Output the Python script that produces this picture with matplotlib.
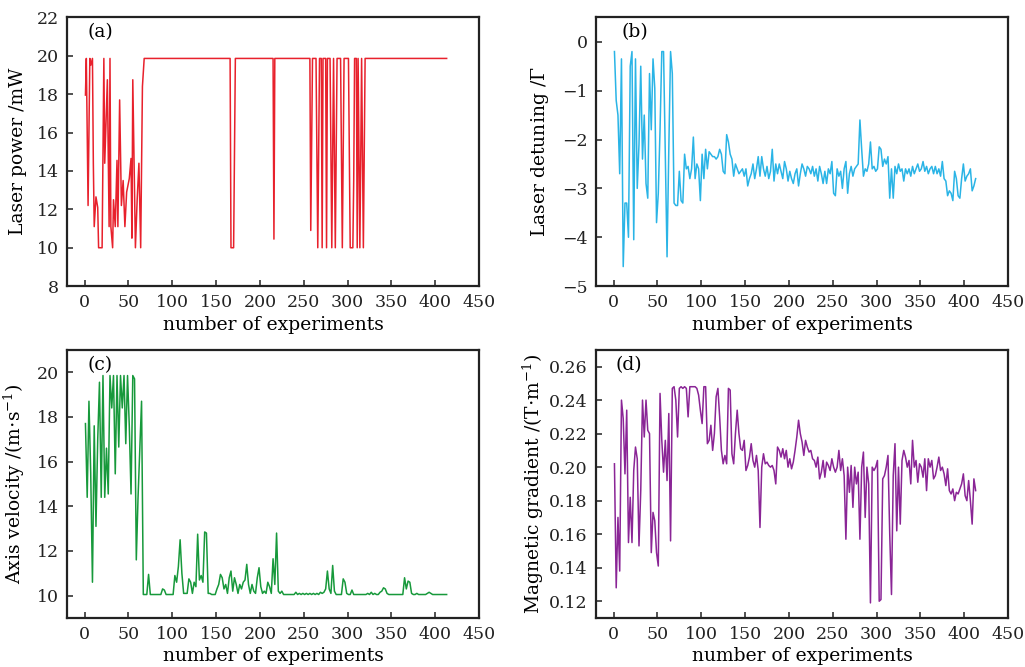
import numpy as np
import matplotlib
matplotlib.use("Agg")
import matplotlib.pyplot as plt

# panel (a): laser power, vertices of the trace (experiment number, mW)
power_exp = [1, 2, 4, 6, 7, 9, 10, 11, 13, 15, 16, 20, 22, 23, 26, 28, 29, 30, 32, 33,
             35, 37, 38, 40, 42, 44, 46, 48, 51, 53, 54, 55, 58, 60, 62, 64, 66, 68,
             166, 167, 170, 172, 215, 216, 217, 257, 258, 260, 264, 266, 268, 270, 271,
             272, 275, 276, 277, 280, 282, 284, 286, 288, 292, 294, 296, 301, 303, 306,
             307, 308, 310, 311, 312, 314, 315, 316, 318, 320, 322, 413]
power = [17.95, 19.86, 12.2, 19.86, 19.5, 19.86, 14.4, 11.1, 12.65, 12.1, 10.0, 10.0, 19.86,
         14.4, 18.75, 11.1, 19.86, 11.1, 10.0, 12.5,
         11.1, 14.55, 11.1, 17.7, 12.2, 13.5, 11.1, 12.9, 13.6, 14.65, 10.5, 18.75, 10.0,
         12.5, 14.4, 10.0, 18.4, 19.86,
         19.86, 10.0, 10.0, 19.86, 19.86, 10.45, 19.86, 19.86, 10.9, 19.86, 19.86, 10.0,
         19.86, 19.86, 10.0,
         19.86, 19.86, 10.0, 19.86, 19.86, 10.0, 19.86, 10.0, 19.86, 19.86, 10.0, 19.86,
         19.86, 10.0, 10.0,
         13.5, 19.86, 19.86, 10.0, 19.86, 10.0, 14.6, 19.86, 10.0, 19.86, 19.86, 19.86]

# panels (b)-(d): one value every second experiment (1, 3, 5, ..., 413)
detuning = [-0.2, -1.2, -1.5, -2.7, -0.35, -4.6, -3.3, -3.3, -4.0, -0.5,
            -0.2, -4.05, -0.35, -3.0, -2.1, -0.5, -2.4, -1.5, -2.9, -3.2,
            -0.65, -1.8, -0.35, -0.95, -3.7, -3.1, -1.8, -0.2, -0.2, -2.3,
            -4.4, -2.2, -0.2, -0.65, -3.3, -3.35, -3.35, -2.65, -3.25, -3.3,
            -2.3, -2.6, -2.55, -2.8, -2.6, -1.95, -2.8, -2.5, -2.6, -3.25,
            -2.3, -2.8, -2.2, -2.6, -2.25, -2.3, -2.35, -2.35, -2.4, -2.35,
            -2.2, -2.3, -2.65, -2.7, -1.9, -2.05, -2.3, -2.4, -2.75, -2.5,
            -2.6, -2.7, -2.65, -2.6, -2.75, -2.6, -2.95, -2.8, -2.7, -2.5,
            -2.8, -2.6, -2.35, -2.75, -2.35, -2.6, -2.75, -2.55, -2.8, -2.65,
            -2.2, -2.85, -2.5, -2.7, -2.5, -2.65, -2.8, -2.45, -2.6, -2.85,
            -2.65, -2.8, -2.9, -2.7, -2.6, -2.95, -2.7, -2.5, -2.6, -2.75,
            -2.55, -2.6, -2.7, -2.55, -2.75, -2.6, -2.85, -2.55, -2.7, -2.9,
            -2.65, -2.9, -2.6, -2.7, -2.45, -3.1, -3.15, -2.6, -2.75, -2.65,
            -3.0, -2.6, -2.45, -3.1, -2.7, -2.55, -2.75, -2.6, -2.55, -2.5,
            -1.6, -2.2, -2.75, -2.6, -2.65, -2.5, -2.05, -2.6, -2.55, -2.65,
            -2.6, -2.15, -2.2, -2.55, -2.4, -2.5, -2.35, -3.2, -2.6, -3.2,
            -2.55, -2.7, -2.5, -2.65, -2.6, -2.85, -2.6, -2.7, -2.6, -2.75,
            -2.55, -2.7, -2.6, -2.5, -2.65, -2.6, -2.45, -2.65, -2.55, -2.7,
            -2.6, -2.55, -2.7, -2.55, -2.7, -2.6, -2.75, -2.45, -2.8, -2.85,
            -3.15, -3.05, -3.1, -3.25, -2.65, -2.8, -3.15, -3.2, -2.8, -2.5,
            -2.85, -2.75, -2.7, -2.6, -3.05, -2.95, -2.8]

velocity = [17.7, 14.4, 18.7, 15.5, 10.6, 17.6, 13.1, 17.0, 19.55, 14.4,
            19.85, 14.4, 16.6, 14.55, 19.85, 18.4, 19.85, 15.45, 19.85, 16.65,
            19.85, 18.4, 19.85, 16.8, 19.85, 17.6, 14.55, 19.85, 19.7, 11.6,
            14.4, 16.6, 18.7, 10.05, 10.05, 10.05, 10.95, 10.05, 10.05, 10.05,
            10.05, 10.05, 10.05, 10.05, 10.3, 10.25, 10.05, 10.05, 10.05, 10.05,
            10.05, 10.9, 10.6, 11.3, 12.5, 11.0, 10.1, 10.1, 10.1, 10.75,
            10.6, 10.1, 10.6, 10.4, 12.75, 10.7, 10.9, 10.6, 12.85, 12.8,
            10.1, 10.1, 10.05, 10.05, 10.05, 10.3, 10.5, 10.95, 10.8, 10.3,
            10.5, 10.1, 10.8, 11.1, 10.2, 10.8, 10.5, 10.1, 10.5, 10.3,
            10.6, 10.7, 11.4, 10.5, 10.1, 10.5, 10.2, 10.1, 10.8, 11.25,
            10.4, 10.1, 10.2, 10.1, 10.6, 10.4, 10.1, 11.65, 10.5, 12.8,
            10.2, 10.1, 10.2, 10.05, 10.05, 10.05, 10.05, 10.05, 10.05, 10.05,
            10.15, 10.05, 10.1, 10.05, 10.1, 10.05, 10.1, 10.05, 10.1, 10.05,
            10.1, 10.05, 10.1, 10.05, 10.15, 10.1, 10.15, 10.3, 11.1, 10.3,
            10.1, 11.35, 10.2, 10.05, 10.05, 10.05, 10.05, 10.75, 10.6, 10.1,
            10.05, 10.05, 10.25, 10.05, 10.05, 10.05, 10.05, 10.05, 10.05, 10.05,
            10.05, 10.1, 10.05, 10.15, 10.05, 10.1, 10.05, 10.05, 10.15, 10.2,
            10.35, 10.3, 10.1, 10.05, 10.05, 10.05, 10.05, 10.05, 10.05, 10.05,
            10.05, 10.05, 10.8, 10.3, 10.65, 10.6, 10.1, 10.05, 10.05, 10.1,
            10.05, 10.05, 10.05, 10.05, 10.05, 10.1, 10.15, 10.1, 10.05, 10.05,
            10.05, 10.05, 10.05, 10.05, 10.05, 10.05, 10.05]

gradient = [0.202, 0.128, 0.17, 0.138, 0.24, 0.229, 0.196, 0.234, 0.155, 0.182,
            0.155, 0.198, 0.212, 0.205, 0.153, 0.186, 0.24, 0.218, 0.24, 0.222,
            0.22, 0.149, 0.173, 0.168, 0.149, 0.141, 0.244, 0.216, 0.197, 0.216,
            0.192, 0.232, 0.156, 0.247, 0.248, 0.24, 0.218, 0.247, 0.248, 0.247,
            0.248, 0.247, 0.23, 0.248, 0.248, 0.248, 0.248, 0.247, 0.243, 0.234,
            0.226, 0.248, 0.248, 0.214, 0.216, 0.225, 0.21, 0.22, 0.242, 0.247,
            0.23, 0.21, 0.202, 0.207, 0.202, 0.247, 0.246, 0.208, 0.202, 0.22,
            0.234, 0.22, 0.211, 0.21, 0.216, 0.198, 0.201, 0.206, 0.214, 0.204,
            0.2, 0.207, 0.198, 0.164, 0.2, 0.208, 0.202, 0.203, 0.201, 0.2,
            0.201, 0.198, 0.19, 0.212, 0.21, 0.206, 0.211, 0.205, 0.21, 0.2,
            0.205, 0.199, 0.203, 0.21, 0.218, 0.228, 0.22, 0.215, 0.207, 0.216,
            0.212, 0.209, 0.21, 0.205, 0.204, 0.2, 0.206, 0.193, 0.197, 0.204,
            0.194, 0.203, 0.201, 0.198, 0.205, 0.2, 0.197, 0.2, 0.21, 0.198,
            0.205, 0.195, 0.157, 0.2, 0.185, 0.201, 0.176, 0.2, 0.19, 0.197,
            0.157, 0.2, 0.209, 0.17, 0.2, 0.19, 0.119, 0.2, 0.198, 0.2,
            0.204, 0.12, 0.121, 0.193, 0.195, 0.2, 0.207, 0.16, 0.124, 0.195,
            0.214, 0.162, 0.2, 0.166, 0.204, 0.21, 0.206, 0.2, 0.204, 0.19,
            0.216, 0.2, 0.204, 0.191, 0.202, 0.2, 0.194, 0.205, 0.186, 0.205,
            0.2, 0.204, 0.193, 0.195, 0.2, 0.206, 0.198, 0.2, 0.196, 0.189,
            0.199, 0.186, 0.184, 0.187, 0.18, 0.185, 0.184, 0.187, 0.19, 0.196,
            0.183, 0.18, 0.192, 0.18, 0.166, 0.193, 0.186]

x_ticks = [0, 50, 100, 150, 200, 250, 300, 350, 400, 450]


def style_axes(ax, tag, ylabel, ylim, yticks, label_x, tag_x=0.08):

    """
    Common look of the four panels: boxed frame, inward ticks left/bottom
    """
    ax.set_xlim(-20, 449)
    ax.set_ylim(*ylim)
    ax.set_xticks(x_ticks)
    ax.set_yticks(yticks)
    ax.tick_params(direction='in', length=4, width=1.1, labelsize=12.5,
                   top=False, right=False, pad=6, colors='#222222')
    for side in ax.spines.values():
        side.set_linewidth(1.6)
        side.set_color('#222222')
    ax.set_xlabel('number of experiments', fontsize=13.5, labelpad=3)
    ax.set_ylabel(ylabel, fontsize=13.5)
    #label coords give the right edge of the rotated label
    ax.yaxis.set_label_coords(label_x, 0.5)
    ax.text(tag_x, 0.945, tag, transform=ax.transAxes, fontsize=13.5,
            ha='center', va='center')


def main():
    plt.rcParams['font.family'] = ['DejaVu Serif']
    plt.rcParams['mathtext.fontset'] = 'dejavuserif'

    fig = plt.figure(figsize=(10.25, 6.67), dpi=100)
    ax_a = fig.add_axes([0.0654, 0.571, 0.402, 0.403])
    ax_b = fig.add_axes([0.5815, 0.571, 0.402, 0.403])
    ax_c = fig.add_axes([0.0654, 0.0735, 0.402, 0.402])
    ax_d = fig.add_axes([0.5815, 0.0735, 0.402, 0.402])

    exp = np.arange(1, 2 * len(detuning), 2)

    ax_a.plot(power_exp, power, color='#e8212c', lw=1.1)
    ax_b.plot(exp, detuning, color='#2ab4e6', lw=1.1)
    ax_c.plot(exp, velocity, color='#17993b', lw=1.1)
    ax_d.plot(exp, gradient, color='#8a2596', lw=1.1)

    style_axes(ax_a, '(a)', 'Laser power /mW', (8, 22), range(8, 23, 2), -0.097)
    style_axes(ax_b, '(b)', r'Laser detuning /$\mathit{\Gamma}$', (-5, 0.5),
               range(-5, 1), -0.109, tag_x=0.095)
    ax_b.set_yticklabels(['\u22125', '\u22124', '\u22123', '\u22122', '\u22121', '0'])
    style_axes(ax_c, '(c)', r'Axis velocity /(m$\cdot$s$^{-1}$)', (9, 21),
               range(10, 21, 2), -0.097)
    d_ticks = np.arange(0.12, 0.261, 0.02)
    style_axes(ax_d, '(d)', r'Magnetic gradient /(T$\cdot$m$^{-1}$)', (0.11, 0.27),
               d_ticks, -0.121)
    ax_d.set_yticklabels(['%.2f' % v for v in d_ticks])

    fig.savefig('out.png', dpi=100)


if __name__ == '__main__':
    main()
